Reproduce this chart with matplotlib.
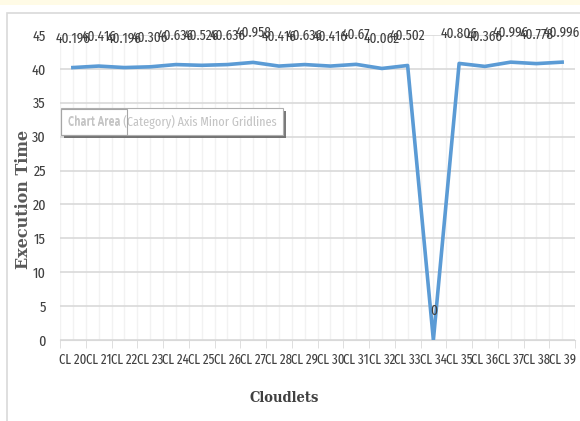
import matplotlib.pyplot as plt
from matplotlib.patches import Rectangle
import matplotlib.patheffects as pe
import numpy as np

cloudlets = ['CL %d' % i for i in range(20, 40)]
exec_time = [40.196, 40.416, 40.196, 40.306, 40.636, 40.526, 40.636, 40.958,
             40.416, 40.636, 40.416, 40.67, 40.062, 40.502, 0,
             40.806, 40.366, 40.996, 40.778, 40.996]
point_labels = ['40.196', '40.416', '40.196', '40.306', '40.636', '40.526', '40.636',
                '40.958', '40.416', '40.636', '40.416', '40.67', '40.062', '40.502', '0',
                '40.806', '40.366', '40.996', '40.778', '40.996']

narrow = ['Fira Sans Extra Condensed', 'Roboto Condensed', 'DejaVu Sans']

fig = plt.figure(figsize=(5.8, 4.21), dpi=100)
fig.patch.set_facecolor('white')

# cream strip at the top and the chart frame
fig.patches.append(Rectangle((0, 1 - 5/421), 1, 5/421, transform=fig.transFigure,
                             facecolor='#fffbe6', edgecolor='none'))
fig.patches.append(Rectangle((7/580, -0.05), 1.0, 1 - 13/421 + 0.05, transform=fig.transFigure,
                             facecolor='none', edgecolor='#d9d9d9', lw=1.2))

ax = fig.add_axes([60/580, 1 - 340/421, 515/580, 305/421])
x = np.arange(len(cloudlets))
ax.plot(x, exec_time, color='#5b9bd5', lw=2.6, zorder=3)

ax.set_xlim(-0.5, len(cloudlets) - 0.5)
ax.set_ylim(0, 45)
ax.set_yticks(np.arange(0, 46, 5))
ax.set_xticks(x)
ax.set_xticklabels(cloudlets, fontsize=10, family=narrow, color='#404040')
ax.set_xticks(np.arange(-0.5, len(cloudlets), 1), minor=True)
ax.tick_params(axis='x', which='major', length=0, pad=9)
ax.tick_params(axis='x', which='minor', length=6, color='#d9d9d9')
ax.tick_params(axis='y', length=0, labelsize=11, labelcolor='#404040', pad=10)
for t in ax.get_yticklabels():
    t.set_family(narrow)

ax.grid(axis='y', color='#d9d9d9', lw=1.2, zorder=0)
for v in np.arange(-0.5, len(cloudlets), 0.5):
    ax.axvline(v, color='#f2f2f2', lw=1, zorder=0)
for s in ['top', 'right', 'left']:
    ax.spines[s].set_visible(False)
ax.spines['bottom'].set_color('#d9d9d9')

for xi, yi, lab in zip(x, exec_time, point_labels):
    ax.annotate(lab, (xi, yi), xytext=(0, 21), textcoords='offset points',
                ha='center', va='center', fontsize=10.5, family=narrow,
                color='#404040', zorder=4)

ax.set_ylabel('Execution Time', fontfamily='DejaVu Serif', fontweight='bold',
              fontsize=11.5, color='#595959')
ax.yaxis.set_label_coords(-28/515, 0.46)
ax.set_xlabel('Cloudlets', fontfamily='DejaVu Serif', fontstretch='condensed',
              fontweight='bold', fontsize=10.5, color='#404040')
ax.xaxis.set_label_coords(0.436, -51/305)

# tooltip remnants
shadow = [pe.withSimplePatchShadow(offset=(2, -2), shadow_rgbFace='#595959', alpha=0.8)]
t1 = ax.text(-0.2, 32.2, 'Chart Area (Category) Axis Minor Gridlines', fontsize=9.5,
             family=narrow, color='#c4c4c4', ha='left', va='center', zorder=5,
             bbox=dict(boxstyle='square,pad=0.5', fc='white', ec='#b0b0b0', lw=0.8))
t1.get_bbox_patch().set_path_effects(shadow)
t2 = ax.text(-0.2, 32.2, 'Chart Area', fontsize=9.5, family=narrow, color='#c4c4c4',
             ha='left', va='center', zorder=6,
             bbox=dict(boxstyle='square,pad=0.5', fc='none', ec='#a6a6a6', lw=0.8))

fig.savefig('out.png', dpi=100)
